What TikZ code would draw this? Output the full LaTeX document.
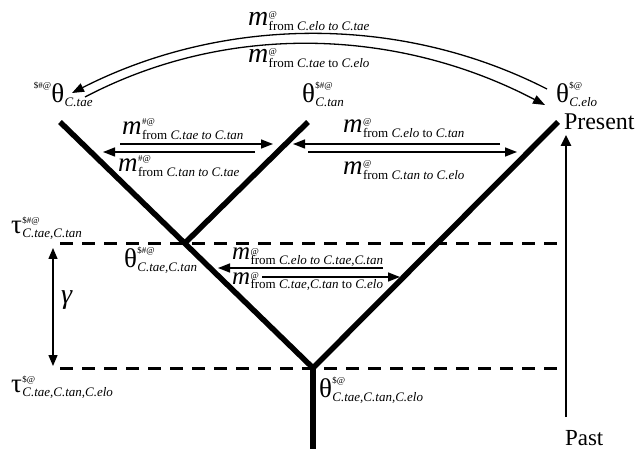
\documentclass[tikz,border=0pt]{standalone}
\usepackage{fontspec}
\setmainfont{Liberation Serif}
\usetikzlibrary{arrows.meta}
\newcommand\fsz[1]{\fontsize{#1}{#1}\selectfont}
% migration label: #1 m size, #2 sup raise (from sub baseline), #3 superscript, #4 subscript
\newcommand\mlab[4]{{\fsz{#1}\itshape m}\kern0.5pt\raisebox{-4.5pt}{\makebox[0pt][l]{\raisebox{#2}{\fsz{9}#3}}\fsz{13}#4}}
% greek label: #1 letter, #2 superscript raise, #3 superscript, #4 subscript
\newcommand\glab[4]{{\fsz{27}#1}\kern0.5pt\raisebox{-4pt}{\makebox[0pt][l]{\raisebox{#2}{\fsz{9}#3}}\fsz{13}\itshape #4}}
\tikzset{
  lab/.style={anchor=base west, inner sep=0pt, outer sep=0pt},
  branch/.style={line width=5.5pt},
  epoch/.style={line width=3pt, dash pattern=on 13pt off 9pt},
  mig/.style={line width=1.4pt, -{Triangle[length=12pt,width=9pt]}},
  arcmig/.style={line width=1.3pt, -{Triangle[length=12pt,width=9pt]}},
  timeax/.style={line width=2.5pt, -{Triangle[length=11pt,width=10pt]}},
  gam/.style={line width=1.4pt, {Triangle[length=11pt,width=9pt]}-{Triangle[length=11pt,width=9pt]}}
}
\begin{document}
\begin{tikzpicture}[x=1pt,y=-1pt]
\useasboundingbox (0,0) rectangle (640,449);
% tree coordinates
\coordinate (tae) at (60,122);
\coordinate (tan) at (308,122);
\coordinate (elo) at (558,122);
\coordinate (junc) at (185,243);
\coordinate (root) at (313,368);
\coordinate (stem) at (313,449);
% epochs
\coordinate (e1a) at (60,244);
\coordinate (e1b) at (566,244);
\coordinate (e2a) at (60,368);
\coordinate (e2b) at (566,368);
\draw[epoch] (e1a) -- (e1b);
\draw[epoch] (e2a) -- (e2b);
% branches
\draw[branch] (tae) -- (root);
\draw[branch] (tan) -- (junc);
\draw[branch] (elo) -- (root);
\draw[branch] (root) -- (stem);
% time axis
\coordinate (past) at (566,417);
\coordinate (pres) at (566,135);
\draw[timeax] (past) -- (pres);
\node[lab] (present) at (564,130) {\fsz{24}Present};
\node[lab] (pastlab) at (565,445) {\fsz{23}Past};
% gamma
\coordinate (g1) at (53,248);
\coordinate (g2) at (53,366);
\draw[gam] (g1) -- (g2);
\node[lab] (gamma) at (61,303) {\fsz{28}\itshape γ};
% theta labels
\node[lab] (thtae) at (34,103) {\raisebox{14pt}{\fsz{9}\$\#@}{\fsz{27}θ}\kern0.5pt\raisebox{-4pt}{\fsz{13}\itshape C.tae}};
\node[lab] (thtan) at (302,103) {\glab{θ}{18pt}{\$\#@}{C.tan}};
\node[lab] (thelo) at (556,103) {\glab{θ}{18pt}{\$@}{C.elo}};
\node[lab] (thtt) at (124,268) {\glab{θ}{18pt}{\$\#@}{C.tae,C.tan}};
\node[lab] (thall) at (319,397) {\glab{θ}{18pt}{\$@}{C.tae,C.tan,C.elo}};
\node[lab] (tau1) at (11,234) {\glab{τ}{14pt}{\$\#@}{C.tae,C.tan}};
\node[lab] (tau2) at (11,392) {\glab{τ}{14pt}{\$@}{C.tae,C.tan,C.elo}};
% arcs between C.tae and C.elo
\coordinate (a1s) at (547,89);
\coordinate (a1e) at (72,93);
\coordinate (a2s) at (85,97);
\coordinate (a2e) at (545,105);
\draw[arcmig] (a1s) .. controls (398,13) and (221,17) .. (a1e);
\draw[arcmig] (a2s) .. controls (230,21) and (400,29) .. (a2e);
\node[lab] (m1) at (248,26) {\mlab{28}{13pt}{@}{from \textit{C.elo to C.tae}}};
\node[lab] (m2) at (248,63) {\mlab{28}{13pt}{@}{from \textit{C.tae} to \textit{C.elo}}};
% tae - tan
\coordinate (b1s) at (120,144);
\coordinate (b1e) at (273,144);
\coordinate (b2s) at (255,152);
\coordinate (b2e) at (103,152);
\draw[mig] (b1s) -- (b1e);
\draw[mig] (b2s) -- (b2e);
\node[lab] (m3) at (122,135) {\mlab{27}{15pt}{\#@}{from \textit{C.tae to C.tan}}};
\node[lab] (m4) at (118,172) {\mlab{27}{15pt}{\#@}{from \textit{C.tan to C.tae}}};
% tan - elo
\coordinate (c1s) at (500,144);
\coordinate (c1e) at (293,144);
\coordinate (c2s) at (308,152);
\coordinate (c2e) at (517,152);
\draw[mig] (c1s) -- (c1e);
\draw[mig] (c2s) -- (c2e);
\node[lab] (m5) at (343,133) {\mlab{27}{13pt}{@}{from \textit{C.elo} to \textit{C.tan}}};
\node[lab] (m6) at (343,175) {\mlab{27}{13pt}{@}{from \textit{C.tan to C.elo}}};
% (tae,tan) - elo
\coordinate (d1s) at (383,268);
\coordinate (d1e) at (218,268);
\coordinate (d2s) at (262,277);
\coordinate (d2e) at (400,277);
\draw[mig] (d1s) -- (d1e);
\draw[mig] (d2s) -- (d2e);
\node[lab] (m7) at (232,260) {\mlab{25}{10pt}{@}{from \textit{C.elo to C.tae,C.tan}}};
\node[lab] (m8) at (232,284) {\mlab{25}{10pt}{@}{from \textit{C.tae,C.tan} to \textit{C.elo}}};
\end{tikzpicture}
\end{document}
